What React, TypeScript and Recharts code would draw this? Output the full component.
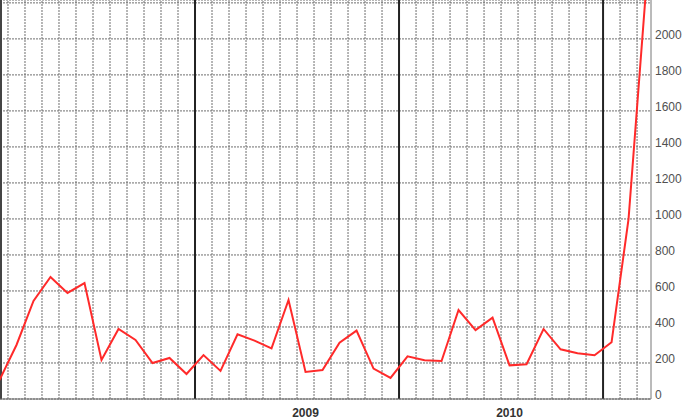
import {
    LineChart,
    Line,
    XAxis,
    YAxis,
    CartesianGrid,
    ReferenceLine,
} from "recharts";

// one entry per month, Jan 2008 .. Mar 2011
const months = [
    "2008-01", "2008-02", "2008-03", "2008-04", "2008-05", "2008-06",
    "2008-07", "2008-08", "2008-09", "2008-10", "2008-11", "2008-12",
    "2009-01", "2009-02", "2009-03", "2009-04", "2009-05", "2009-06",
    "2009-07", "2009-08", "2009-09", "2009-10", "2009-11", "2009-12",
    "2010-01", "2010-02", "2010-03", "2010-04", "2010-05", "2010-06",
    "2010-07", "2010-08", "2010-09", "2010-10", "2010-11", "2010-12",
    "2011-01", "2011-02", "2011-03",
];

const counts = [
    105, 300, 545, 678, 589, 644, 217, 389, 328, 200, 228, 139,
    244, 156, 359, 324, 281, 550, 150, 161, 313, 380, 169, 117,
    237, 215, 211, 494, 383, 452, 187, 193, 389, 276, 254, 243,
    315, 1000, 2240,
];

const yTicks = [0, 200, 400, 600, 800, 1000, 1200, 1400, 1600, 1800, 2000, 2200];

// year labels sit under July of each year
const yearLabels = [
    { month: "2009-07", label: "2009" },
    { month: "2010-07", label: "2010" },
];

const data = months.map((m, i) => ({ idx: i, month: m, value: counts[i] }));

// month boundaries (between two points) for the grid
const monthBounds = months.slice(1).map((_, i) => i + 0.5);
const yearBounds = months
    .map((m, i) => (m.endsWith("-01") && i > 0 ? i - 0.5 : null))
    .filter((v): v is number => v !== null);

const xTicks = yearLabels.map((y) => months.indexOf(y.month));
const labelFor = (v: number) =>
    yearLabels.find((y) => months.indexOf(y.month) === v)?.label ?? "";

const font = "'Liberation Sans', Arial, sans-serif";
const gridColor = "#6e6e6e";

export default function App() {
    return (
        <div
            style={{
                position: "absolute",
                left: 0,
                top: 0,
                width: 700,
                height: 420,
                background: "#ffffff",
                fontFamily: font,
            }}
        >
            <LineChart
                width={700}
                height={420}
                data={data}
                margin={{ top: 0, right: 0, bottom: 0, left: 0 }}
            >
                <CartesianGrid
                    vertical={false}
                    stroke={gridColor}
                    strokeDasharray="2 1"
                />
                {monthBounds
                    .filter((b) => !yearBounds.includes(b))
                    .map((b) => (
                        <ReferenceLine
                            key={b}
                            x={b}
                            stroke={gridColor}
                            strokeDasharray="2 1"
                        />
                    ))}
                {yearBounds.map((b) => (
                    <ReferenceLine
                        key={"y" + b}
                        x={b}
                        stroke="#222222"
                        strokeWidth={2}
                    />
                ))}
                <ReferenceLine x={0.089} stroke="#444444" strokeWidth={2} />
                <XAxis
                    dataKey="idx"
                    type="number"
                    domain={[0.03, 38.32]}
                    allowDataOverflow
                    ticks={xTicks}
                    tickFormatter={labelFor}
                    interval={0}
                    height={21}
                    tickLine={false}
                    tickSize={7}
                    tickMargin={2}
                    axisLine={{ stroke: "#666666" }}
                    tick={{
                        fill: "#333333",
                        fontSize: 12,
                        fontWeight: 700,
                        fontFamily: font,
                    }}
                />
                <YAxis
                    orientation="right"
                    type="number"
                    domain={[0, 2216]}
                    allowDataOverflow
                    ticks={yTicks}
                    tickFormatter={(v: number) => (v > 2000 ? "" : String(v))}
                    interval={0}
                    width={49}
                    tickLine={false}
                    tickSize={2}
                    tickMargin={2}
                    axisLine={{ stroke: "#777777" }}
                    tick={{
                        fill: "#505050",
                        fontSize: 12,
                        fontFamily: font,
                        dy: -4.5,
                    }}
                />
                <Line
                    type="linear"
                    dataKey="value"
                    stroke="#ff2a2a"
                    strokeWidth={2}
                    dot={false}
                    isAnimationActive={false}
                />
            </LineChart>
        </div>
    );
}
